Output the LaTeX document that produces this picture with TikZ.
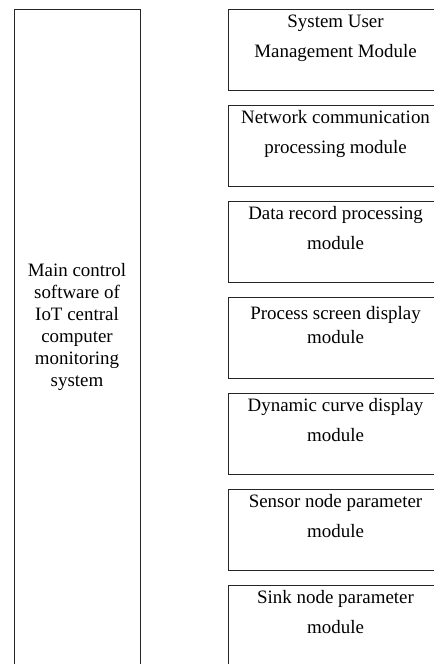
\documentclass[tikz,border=0pt]{standalone}
\usepackage{fontspec}
\setmainfont{Liberation Serif}
\usetikzlibrary{positioning}

\begin{document}
\begin{tikzpicture}[x=0.75pt, y=-0.75pt, every node/.style={font=\fontsize{14.2}{16.6}\selectfont, inner sep=0pt},
	box/.style={draw=black!85, line width=0.8pt},
	mainbox/.style={box, minimum width=94.5pt, minimum height=496pt, anchor=north west},
	modbox/.style={box, minimum width=160.5pt, minimum height=60.4pt},
	modtext/.style={align=center, font=\fontsize{14.2}{21.8}\selectfont},
	tighttext/.style={align=center, font=\fontsize{14.2}{17.6}\selectfont}]
	\useasboundingbox (0,0) rectangle (433,664);
	% left: main control software
	\node[mainbox] (main) at (14,9) {};
	\node[align=center] (maintxt) at (77,327) {Main control\\software of\\IoT central\\computer\\monitoring\\system};
	% right: the modules
	\node[modbox, anchor=north west] (user) at (228,9) {};
	\node[modbox, below=10.8pt of user] (net) {};
	\node[modbox, below=10.8pt of net] (rec) {};
	\node[modbox, below=10.8pt of rec] (scr) {};
	\node[modbox, below=10.8pt of scr] (dyn) {};
	\node[modbox, below=10.8pt of dyn] (sen) {};
	\node[modbox, below=10.8pt of sen] (sink) {};
	% text sits at the top of each box (base = last line)
	\node[modtext, below=36pt of user.north, anchor=base] (usertxt) {System User\\Management Module};
	\node[modtext, below=36pt of net.north, anchor=base] (nettxt) {Network communication\\processing module};
	\node[modtext, below=36pt of rec.north, anchor=base] (rectxt) {Data record processing\\module};
	\node[tighttext, below=34.5pt of scr.north, anchor=base] (scrtxt) {Process screen display\\module};
	\node[modtext, below=36pt of dyn.north, anchor=base] (dyntxt) {Dynamic curve display\\module};
	\node[modtext, below=36pt of sen.north, anchor=base] (sentxt) {Sensor node parameter\\module};
	\node[modtext, below=36pt of sink.north, anchor=base] (sinktxt) {Sink node parameter\\module};
\end{tikzpicture}
\end{document}
